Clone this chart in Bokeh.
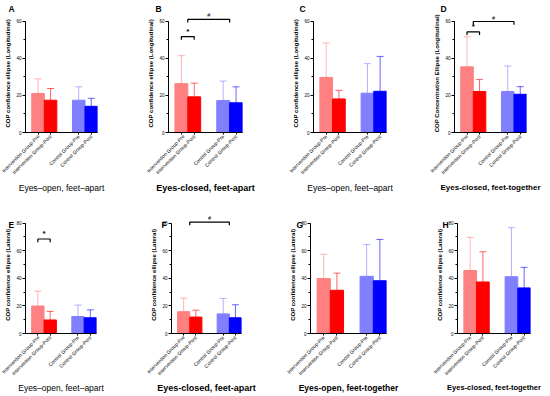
import math
from bokeh.plotting import figure
from bokeh.layouts import column, row
from bokeh.models import (Range1d, FixedTicker, SingleIntervalTicker, Whisker,
                          TeeHead, ColumnDataSource, Label)
from bokeh.core.properties import value, field
from bokeh.embed import file_html
from bokeh.resources import INLINE

# ---------------- data ----------------
groups = ["Intervention Group-Pre", "Intervention Group-Post",
          "Control Group-Pre", "Control Group-Post"]
colors = ["#FF8080", "#FF0000", "#8080FF", "#0000FF"]

mean_A = [21.0, 17.4, 17.4, 14.1]
sd_A = [7.9, 6.3, 7.2, 4.3]
mean_B = [26.3, 19.2, 17.2, 16.0]
sd_B = [15.1, 7.4, 10.5, 8.6]
mean_C = [29.7, 18.1, 21.2, 22.2]
sd_C = [18.5, 4.6, 15.9, 18.8]
mean_D = [35.4, 22.1, 22.1, 20.6]
sd_D = [16.2, 6.5, 13.7, 4.1]
mean_E = [19.9, 9.8, 12.3, 11.4]
sd_E = [10.7, 6.2, 8.3, 5.7]
mean_F = [15.8, 11.9, 14.2, 11.4]
sd_F = [9.8, 5.0, 11.2, 9.4]
mean_G = [39.8, 31.3, 41.4, 38.2]
sd_G = [17.6, 12.4, 23.1, 29.9]
mean_H = [45.6, 37.3, 41.1, 33.0]
sd_H = [24.0, 21.9, 35.5, 14.9]

# significance brackets: (symbol, bars on left end, bars on right end, level)
sig_B = [("*", [0], [1], 51.7), ("#", [0, 1], [2, 3], 61.0)]
sig_D = [("*", [0], [1], 54.2), ("#", [0, 1], [2, 3], 59.8)]
sig_E = [("*", [0], [1], 68.4)]
sig_F = [("#", [0, 1], [2, 3], 80.7)]

ylab_long = "COP confidence ellipse  (Longitudinal)"
ylab_conc = "COP Concentration Ellipse  (Longitudinal)"
ylab_lat = "COP confidence ellipse  (Lateral)"

FONT = "Liberation Sans"
GAP = 1.25
x_pos = [i + GAP * (i // 2) for i in range(len(groups))]


def panel(letter, means, sds, ylabel, subtitle, sub_bold, sub_size, axis_top,
          range_top, width, height, left, right, top, bottom, letter_x,
          letter_y, sub_standoff, sig=(), tick_len=2.0):
    p = figure(width=width, height=height,
               x_range=Range1d(x_pos[0] - 1.0, x_pos[-1] + 0.5),
               y_range=Range1d(0, range_top),
               output_backend="svg", toolbar_location=None,
               min_border_left=left, min_border_right=right,
               min_border_top=top, min_border_bottom=bottom)
    p.outline_line_color = None
    p.xgrid.visible = False
    p.ygrid.visible = False
    p.background_fill_color = "white"
    p.border_fill_color = "white"

    src = ColumnDataSource(dict(x=x_pos, top=means,
                                upper=[m + s for m, s in zip(means, sds)],
                                color=colors))
    p.vbar(x="x", top="top", width=1.0, fill_color="color", line_color="color",
           source=src)
    wh = Whisker(source=src, base="x", lower="top", upper="upper",
                 line_color=field("color"), line_alpha=0.6, line_width=1,
                 upper_head=TeeHead(size=7, line_color=field("color"),
                                    line_alpha=0.6, line_width=1),
                 lower_head=None, level="glyph")
    p.add_layout(wh)

    # brackets
    for sym, lft, rgt, lev in sig:
        x1 = sum(x_pos[i] for i in lft) / len(lft)
        x2 = sum(x_pos[i] for i in rgt) / len(rgt)
        p.line([x1, x1, x2, x2], [lev - tick_len, lev, lev, lev - tick_len],
               line_color="black", line_width=1.2)
        p.text([(x1 + x2) / 2], [lev + 0.5], text=[sym],
               text_align="center", text_baseline="bottom",
               text_font=value(FONT),
               text_font_size="8px" if sym == "*" else "5.5px",
               text_font_style="bold" if sym == "*" else "normal",
               text_color="black")

    # y axis
    ya = p.yaxis[0]
    ya.bounds = (0, axis_top)
    ya.ticker = SingleIntervalTicker(interval=20, num_minor_ticks=2)
    ya.major_tick_out = 3
    ya.major_tick_in = 0
    ya.minor_tick_out = 2
    ya.minor_tick_in = 0
    ya.axis_line_color = "black"
    ya.major_label_text_font = FONT
    ya.major_label_text_font_size = "4.5px"
    ya.major_label_text_color = "black"
    ya.major_label_standoff = 1
    ya.axis_label = ylabel
    ya.axis_label_text_font = FONT
    ya.axis_label_text_font_size = "6px"
    ya.axis_label_text_font_style = "bold"
    ya.axis_label_text_color = "black"
    ya.axis_label_standoff = 2

    # x axis
    xa = p.xaxis[0]
    xa.ticker = FixedTicker(ticks=x_pos)
    xa.major_label_overrides = {float(x): g for x, g in zip(x_pos, groups)}
    xa.major_label_orientation = math.pi / 4
    xa.major_label_text_font = FONT
    xa.major_label_text_font_size = "5px"
    xa.major_label_text_color = "black"
    xa.major_label_standoff = 1
    xa.major_tick_out = 2
    xa.major_tick_in = 0
    xa.minor_tick_line_color = None
    xa.axis_line_color = "black"
    xa.axis_label = subtitle
    xa.axis_label_text_font = FONT
    xa.axis_label_text_font_size = sub_size
    xa.axis_label_text_font_style = "bold" if sub_bold else "normal"
    xa.axis_label_text_color = "black"
    xa.axis_label_standoff = sub_standoff

    # panel letter, in the panel above the frame (not clipped to the frame)
    p.add_layout(Label(x=letter_x, y=letter_y,
                       x_units="screen", y_units="screen", text=letter,
                       text_font=FONT, text_font_size="8.5px",
                       text_font_style="bold", text_baseline="top",
                       text_align="left", text_color="black"), "above")
    return p


H1, H2 = 196, 200
TOP1, BOT1 = 12, 59
TOP2, BOT2 = 18, 56
R1 = (H1 - TOP1 - BOT1) / (116 / 60)     # y-range end, top row
R2 = (H2 - TOP2 - BOT2) / (117 / 80)     # y-range end, bottom row
S1, S2 = 3, 2

pA = panel("A", mean_A, sd_A, ylab_long, "Eyes\u2013open, feet\u2013apart", False,
           "8.5px", 60, R1, 145, H1, 25, 48, TOP1, BOT1, -17, 9, S1)
pB = panel("B", mean_B, sd_B, ylab_long, "Eyes-closed, feet-apart", True,
           "9px", 60, R1, 135, H1, 22, 38, TOP1, BOT1, -13, 9, S1, sig_B, 1.7)
pC = panel("C", mean_C, sd_C, ylab_long, "Eyes\u2013open, feet\u2013apart", False,
           "8.5px", 60, R1, 140, H1, 33, 34, TOP1, BOT1, -14, 9, S1)
pD = panel("D", mean_D, sd_D, ylab_conc, "Eyes-closed, feet-together", True,
           "8px", 60, R1, 130, H1, 34, 24, TOP1, BOT1, -14, 9, S1, sig_D, 1.7)

pE = panel("E", mean_E, sd_E, ylab_lat, "Eyes\u2013open, feet\u2013apart", False,
           "8.5px", 80, R2, 145, H2, 25, 49, TOP2, BOT2, -17, -5, S2, sig_E, 2.3)
pF = panel("F", mean_F, sd_F, ylab_lat, "Eyes-closed, feet-apart", True,
           "9px", 80, R2, 135, H2, 26, 39, TOP2, BOT2, -10, -5, S2, sig_F, 2.3)
pG = panel("G", mean_G, sd_G, ylab_lat, "Eyes-open, feet-together", True,
           "8.5px", 80, R2, 140, H2, 30, 34, TOP2, BOT2, -14, -5, S2)
pH = panel("H", mean_H, sd_H, ylab_lat, "Eyes-closed, feet-together", True,
           "7.5px", 80, R2, 130, H2, 37, 20, TOP2, BOT2, -15, -5, S2)

layout = column(row(pA, pB, pC, pD), row(pE, pF, pG, pH))
open("out.html", "w").write(file_html(layout, INLINE))
